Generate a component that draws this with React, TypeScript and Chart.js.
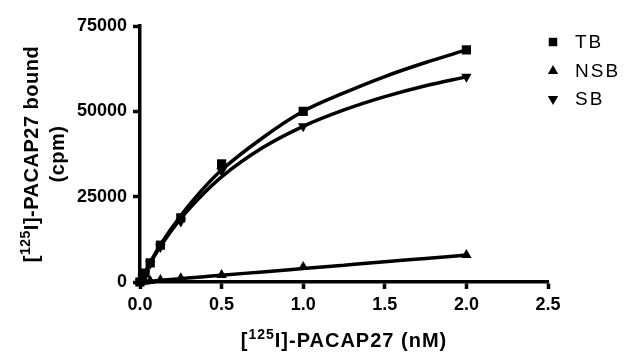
import React, { useEffect, useRef } from "react";
import { Chart, registerables } from "chart.js";

Chart.register(...registerables);

const concentrations = [0, 0.015625, 0.03125, 0.0625, 0.125, 0.25, 0.5, 1.0, 2.0];
const tbValues = [0, 1300, 2600, 5600, 10800, 18800, 34600, 50000, 68000];
const nsbValues = [0, 70, 140, 280, 550, 1100, 2050, 4400, 7900];
const sbValues = [0, 1230, 2460, 5320, 10250, 17700, 32550, 45600, 60100];

// ---- Fitted curves ----
const fitX = [0, 0.0625, 0.125, 0.25, 0.375, 0.5, 0.75, 1.0, 1.25, 1.5, 1.75, 2.0];
const tbFit = [0, 5700, 10900, 19500, 26700, 32800, 42200, 50000, 55400, 60200, 64300, 68000];
const nsbFit = [0, 250, 500, 990, 1480, 1980, 2960, 3950, 4940, 5930, 6910, 7900];
const sbFit = [0, 5500, 10400, 18600, 25200, 30800, 39300, 45600, 50400, 54300, 57500, 60100];

const seriesLabels = ["TB", "NSB", "SB"];
const seriesMarkers = ["rect", "triangle", "triangleDown"];

const xMin = 0;
const xMax = 2.5;
const xStep = 0.5;
const yMin = 0;
const yMax = 75000;
const yStep = 25000;

const titleSup = "125";
const xTitleParts = ["[", "I]-PACAP27 (nM)"];
const yTitleLine1Parts = ["[", "I]-PACAP27 bound"];
const yTitleLine2 = "(cpm)";

const FONT = "Arial, 'Liberation Sans', sans-serif";

function drawSupText(
  ctx: CanvasRenderingContext2D,
  pre: string,
  sup: string,
  post: string,
  cx: number,
  baseline: number,
  size: number,
  spacing: number
) {
  const supSize = Math.round(size * 0.7);
  ctx.letterSpacing = spacing + "px";
  ctx.font = `bold ${size}px ${FONT}`;
  const w1 = ctx.measureText(pre).width;
  const w3 = ctx.measureText(post).width;
  ctx.font = `bold ${supSize}px ${FONT}`;
  const w2 = ctx.measureText(sup).width;
  const total = w1 + w2 + w3;
  let x = cx - total / 2;
  ctx.textAlign = "left";
  ctx.textBaseline = "alphabetic";
  ctx.font = `bold ${size}px ${FONT}`;
  ctx.fillText(pre, x, baseline);
  x += w1;
  ctx.font = `bold ${supSize}px ${FONT}`;
  ctx.fillText(sup, x, baseline - size * 0.42);
  x += w2;
  ctx.font = `bold ${size}px ${FONT}`;
  ctx.fillText(post, x, baseline);
}

function drawMarker(ctx: CanvasRenderingContext2D, kind: string, x: number, y: number, r: number) {
  ctx.beginPath();
  if (kind === "rect") {
    const h = r * Math.SQRT1_2;
    ctx.rect(x - h, y - h, 2 * h, 2 * h);
  } else {
    let rad = kind === "triangle" ? 0 : Math.PI;
    for (let i = 0; i < 3; i++) {
      const px = x + Math.sin(rad) * r;
      const py = y - Math.cos(rad) * r;
      if (i === 0) ctx.moveTo(px, py);
      else ctx.lineTo(px, py);
      rad += (2 * Math.PI) / 3;
    }
    ctx.closePath();
  }
  ctx.fill();
}

const textPlugin = {
  id: "customTexts",
  afterDraw(chart: any) {
    const ctx: CanvasRenderingContext2D = chart.ctx;
    const area = chart.chartArea;
    ctx.save();
    ctx.fillStyle = "#000";

    // X title
    drawSupText(ctx, xTitleParts[0], titleSup, xTitleParts[1], 344, 347, 20, 1);

    // Y title (rotated)
    const cy = (area.top + area.bottom) / 2;
    ctx.save();
    ctx.translate(38, cy);
    ctx.rotate(-Math.PI / 2);
    drawSupText(ctx, yTitleLine1Parts[0], titleSup, yTitleLine1Parts[1], 0, 0, 20, 0.5);
    ctx.restore();
    ctx.save();
    ctx.translate(64, cy);
    ctx.rotate(-Math.PI / 2);
    ctx.letterSpacing = "0.5px";
    ctx.font = `bold 20px ${FONT}`;
    ctx.textAlign = "center";
    ctx.textBaseline = "alphabetic";
    ctx.fillText(yTitleLine2, 0, 0);
    ctx.restore();

    // Legend
    const legendX = 553;
    const legendY = [42, 71, 99];
    ctx.letterSpacing = "2px";
    ctx.font = `19px ${FONT}`;
    ctx.textAlign = "left";
    ctx.textBaseline = "middle";
    seriesLabels.forEach((label, i) => {
      drawMarker(ctx, seriesMarkers[i], legendX, legendY[i], 6);
      ctx.fillText(label, 575, legendY[i] + 1);
    });
    ctx.restore();
  },
};

export default function App() {
  const canvasRef = useRef<HTMLCanvasElement | null>(null);

  useEffect(() => {
    if (!canvasRef.current) return;
    const pointSeries = [tbValues, nsbValues, sbValues];
    const fitSeries = [tbFit, nsbFit, sbFit];

    const fitDatasets = fitSeries.map((vals, i) => ({
      label: seriesLabels[i] + " fit",
      data: fitX.map((c, j) => ({ x: c, y: vals[j] })),
      showLine: true,
      borderColor: "#000",
      backgroundColor: "#000",
      borderWidth: 3.5,
      cubicInterpolationMode: "monotone" as const,
      pointRadius: 0,
      clip: false as any,
    }));

    const pointDatasets = pointSeries.map((vals, i) => {
      const ps = seriesMarkers[i];
      return {
        label: seriesLabels[i],
        data: concentrations.map((c, j) => ({ x: c, y: vals[j] })),
        showLine: false,
        borderColor: "#000",
        backgroundColor: "#000",
        pointStyle: ps === "triangleDown" ? "triangle" : ps,
        rotation: ps === "triangleDown" ? 180 : 0,
        pointRadius: ps === "rect" ? 6.5 : 6,
        pointBorderWidth: 0,
        pointBackgroundColor: "#000",
        clip: false as any,
      };
    });

    const chart = new Chart(canvasRef.current, {
      type: "line",
      data: { datasets: [...fitDatasets, ...pointDatasets] },
      plugins: [textPlugin],
      options: {
        animation: false,
        responsive: false,
        layout: { padding: { top: 26, right: 92, bottom: 0, left: 0 } },
        plugins: {
          legend: { display: false },
          tooltip: { enabled: false },
        },
        scales: {
          x: {
            type: "linear",
            min: xMin,
            max: xMax,
            ticks: {
              stepSize: xStep,
              color: "#000",
              padding: 5,
              font: { family: FONT, size: 18, weight: "bold" },
              callback: (v: any) => Number(v).toFixed(1),
            },
            grid: {
              display: true,
              drawOnChartArea: false,
              drawTicks: true,
              tickLength: 7,
              tickWidth: 3.5,
              tickColor: "#000",
            },
            border: { display: true, color: "#000", width: 3.5 },
            afterFit: (scale: any) => {
              scale.height = 81;
            },
          },
          y: {
            type: "linear",
            min: yMin,
            max: yMax,
            ticks: {
              stepSize: yStep,
              color: "#000",
              padding: 6,
              font: { family: FONT, size: 18, weight: "bold" },
              callback: (v: any) => String(v),
            },
            grid: {
              display: true,
              drawOnChartArea: false,
              drawTicks: true,
              tickLength: 7,
              tickWidth: 3.5,
              tickColor: "#000",
            },
            border: { display: true, color: "#000", width: 3.5 },
            afterFit: (scale: any) => {
              scale.width = 140;
            },
          },
        },
      } as any,
    });
    return () => chart.destroy();
  }, []);

  return (
    <div style={{ position: "absolute", left: 0, top: 0, width: 640, height: 363, background: "#fff" }}>
      <canvas ref={canvasRef} width={640} height={363} style={{ width: 640, height: 363, display: "block" }} />
    </div>
  );
}
